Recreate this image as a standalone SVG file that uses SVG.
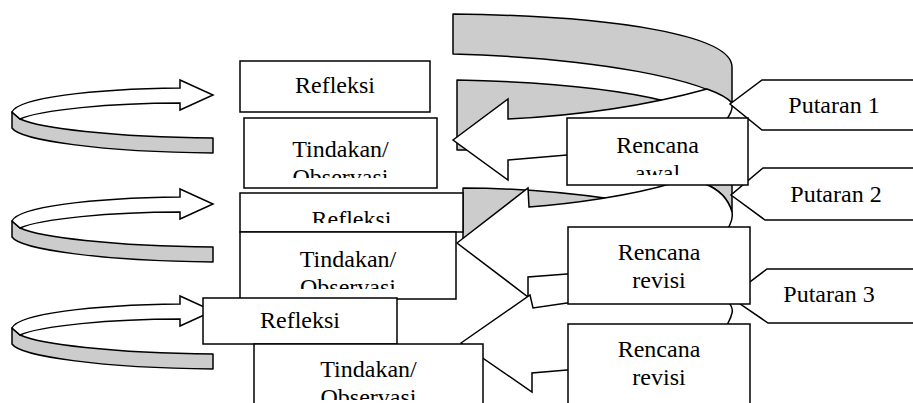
<svg xmlns="http://www.w3.org/2000/svg" xmlns:xlink="http://www.w3.org/1999/xlink" width="913" height="403" viewBox="0 0 913 403">
<style>
.box{fill:#fff;stroke:#000;stroke-width:1.5}
.g{fill:#cccccc;stroke:#000;stroke-width:1.5;stroke-linejoin:round}
.w{fill:#fff;stroke:#000;stroke-width:1.5;stroke-linejoin:miter}
.t{font-family:"Liberation Serif","Times New Roman",serif;font-size:24px;text-anchor:middle;fill:#000}
</style>
<defs>
<g id="cra">
<path class="g" d="M12,112 L12,128 C20,140 100,152 213,153 L213,138 C110,137 40,128 20,119 Z"/>
<path class="w" d="M180,88 L180,80 L213,95 L180,110 L180,103 C110,103 40,110 20,119 L12,112 C18,98 90,89 180,88 Z"/>
</g>
<clipPath id="c-t1"><rect x="244" y="118" width="193" height="60"/></clipPath>
<clipPath id="c-ra"><rect x="567" y="118" width="181" height="57"/></clipPath>
<clipPath id="c-r2"><rect x="240" y="193" width="223" height="30"/></clipPath>
<clipPath id="c-t2"><rect x="240" y="232" width="216" height="57"/></clipPath>
<clipPath id="c-t3"><rect x="254" y="344" width="229" height="56"/></clipPath>
</defs>
<rect width="913" height="403" fill="#fff"/>
<g id="connectors">
<use xlink:href="#cra"/>
<use xlink:href="#cra" transform="translate(0,109)"/>
<use xlink:href="#cra" transform="translate(0,216)"/>
<g id="arrow-putaran1">
<path class="g" d="M453,14 C620,16 732,36 732,67 L732,103 C705,80 600,58 453,54 Z"/>
<path class="g" d="M457,80 C550,82 620,90 665,101 L665,150 L457,150 Z"/>
<path class="w" d="M453,140 L508,99 L508,119 C590,115 660,102 707,89 C718,93 727,97 732,103 C733,109 731,114 726,120 L700,150 L567,155 L508,160 L508,180 Z"/>
</g>
<g id="arrow-putaran2">
<path class="g" d="M463,188 C520,188 570,193 612,199 L612,245 L463,245 Z"/>
<path class="g" d="M680,160 L732,160 L732,212 C728,198 718,189 705,184 Z"/>
<path class="w" d="M457,243 L528,188 L529,207 C570,204 630,196 673,183 L705,184 C718,189 728,198 732,212 C733,218 731,222 728,229 L728,270 L567,274 L528,277 L528,297 Z"/>
</g>
<g id="arrow-putaran3">
<path class="w" d="M461,343 L530,295 L533,308 L567,303 L728,302 C731,305 733,309 732,313 C731,318 729,321 727,325 L727,360 L567,370 L532,373 L532,392 Z"/>
</g>
</g>
<g id="putaran-1"><path class="w" d="M920,80 L762,80 L730,104 L762,130 L920,130"/><text class="t" x="834" y="113">Putaran 1</text></g>
<g id="putaran-2"><path class="w" d="M920,168 L763,168 L731,195 L765,220 L920,220"/><text class="t" x="836" y="202">Putaran 2</text></g>
<g id="putaran-3"><path class="w" d="M920,269 L767,269 L730,297 L768,323 L920,323"/><text class="t" x="829" y="302">Putaran 3</text></g>
<g id="refleksi-1"><rect class="box" x="240" y="61" width="190" height="51"/><text class="t" x="335" y="93">Refleksi</text></g>
<g id="tindakan-1"><rect class="box" x="244" y="118" width="193" height="70"/><g clip-path="url(#c-t1)"><text class="t" x="340.5" y="157">Tindakan/</text><text class="t" x="340.5" y="185">Observasi</text></g></g>
<g id="refleksi-2"><rect class="box" x="240" y="193" width="223" height="39"/><g clip-path="url(#c-r2)"><text class="t" x="351.5" y="227">Refleksi</text></g></g>
<g id="tindakan-2"><rect class="box" x="240" y="232" width="216" height="67"/><g clip-path="url(#c-t2)"><text class="t" x="348" y="267">Tindakan/</text><text class="t" x="348" y="295">Observasi</text></g></g>
<g id="refleksi-3"><rect class="box" x="203" y="298" width="194" height="46"/><text class="t" x="300" y="328">Refleksi</text></g>
<g id="tindakan-3"><rect class="box" x="254" y="344" width="229" height="70"/><g clip-path="url(#c-t3)"><text class="t" x="368.5" y="377">Tindakan/</text><text class="t" x="368.5" y="405">Observasi</text></g></g>
<g id="rencana-awal"><rect class="box" x="567" y="118" width="181" height="67"/><g clip-path="url(#c-ra)"><text class="t" x="657.5" y="153">Rencana</text><text class="t" x="657.5" y="181">awal</text></g></g>
<g id="rencana-revisi-1"><rect class="box" x="568" y="227" width="182" height="77"/><text class="t" x="659" y="260">Rencana</text><text class="t" x="659" y="288">revisi</text></g>
<g id="rencana-revisi-2"><rect class="box" x="568" y="324" width="182" height="90"/><text class="t" x="659" y="357">Rencana</text><text class="t" x="659" y="385">revisi</text></g>
</svg>
